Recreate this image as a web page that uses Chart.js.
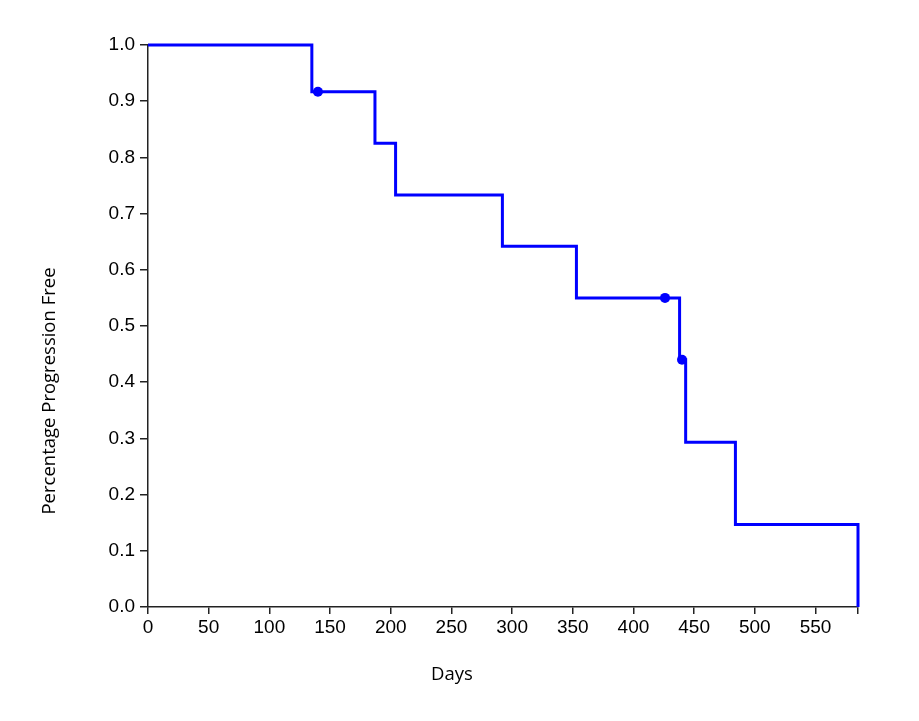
<!DOCTYPE html>
<html>
<head>
<meta charset="utf-8">
<script src="https://cdn.jsdelivr.net/npm/chart.js@4/dist/chart.umd.min.js"></script>
<style>
html,body{margin:0;padding:0;background:#fff;}
canvas{display:block;}
</style>
</head>
<body>
<canvas id="c" width="919" height="721"></canvas>
<script>
// Kaplan-Meier step points (event days and survival after each event)
const eventDays = [0, 135, 187, 204, 292, 353, 438, 443, 484, 585];
const survival = [1.0, 0.9167, 0.825, 0.7333, 0.6417, 0.55, 0.44, 0.2933, 0.1467, 0.0];
// Censored observations
const censorDays = [140, 426, 440];
const censorSurvival = [0.9167, 0.55, 0.44];
// Axis settings
const xMax = 585;
const xTicks = [0, 50, 100, 150, 200, 250, 300, 350, 400, 450, 500, 550];
const yStep = 0.1;
const xTitle = 'Days';
const yTitle = 'Percentage Progression Free';

const kmPoints = eventDays.map((d, i) => ({x: d, y: survival[i]}));
const censorPoints = censorDays.map((d, i) => ({x: d, y: censorSurvival[i]}));

const titlesPlugin = {
  id: 'axisTitles',
  afterDraw(chart) {
    const ctx = chart.ctx;
    ctx.save();
    ctx.fillStyle = '#000';
    ctx.font = '18.5px "Open Sans"';
    ctx.textAlign = 'center';
    ctx.textBaseline = 'middle';
    ctx.fillText(xTitle, 452, 675);
    ctx.translate(50, 391);
    ctx.rotate(-Math.PI / 2);
    ctx.fillText(yTitle, 0, 0);
    ctx.restore();
  }
};

new Chart(document.getElementById('c'), {
  type: 'scatter',
  data: {
    datasets: [
      {
        data: kmPoints,
        showLine: true,
        stepped: 'before',
        borderColor: '#0000ff',
        borderWidth: 3,
        pointRadius: 0,
        fill: false,
        clip: false
      },
      {
        data: censorPoints,
        showLine: false,
        pointRadius: 5,
        pointBackgroundColor: '#0000ff',
        pointBorderColor: '#0000ff',
        pointBorderWidth: 0,
        clip: false
      }
    ]
  },
  options: {
    responsive: false,
    animation: false,
    devicePixelRatio: 1,
    layout: {padding: {top: 45, right: 61, left: 0, bottom: 0}},
    plugins: {legend: {display: false}, tooltip: {enabled: false}},
    scales: {
      x: {
        type: 'linear',
        min: 0,
        max: xMax,
        afterFit(s) { s.height = 114; },
        afterBuildTicks(s) {
          s.ticks = xTicks.map(v => ({value: v})).concat([{value: xMax}]);
        },
        ticks: {
          autoSkip: false,
          maxRotation: 0,
          padding: 2,
          color: '#000',
          font: {family: '"Liberation Sans", Arial, sans-serif', size: 19},
          callback: v => (xTicks.includes(v) ? String(v) : '')
        },
        grid: {drawOnChartArea: false, tickLength: 7, color: '#222', lineWidth: 1.5},
        border: {display: true, color: '#222', width: 1.5}
      },
      y: {
        min: 0,
        max: 1,
        afterFit(s) { s.width = 148; },
        ticks: {
          stepSize: yStep,
          padding: 5,
          color: '#000',
          font: {family: '"Liberation Sans", Arial, sans-serif', size: 19},
          callback: v => Number(v).toFixed(1)
        },
        grid: {drawOnChartArea: false, tickLength: 8, color: '#222', lineWidth: 1.5},
        border: {display: true, color: '#222', width: 1.5}
      }
    }
  },
  plugins: [titlesPlugin]
});
</script>
</body>
</html>
